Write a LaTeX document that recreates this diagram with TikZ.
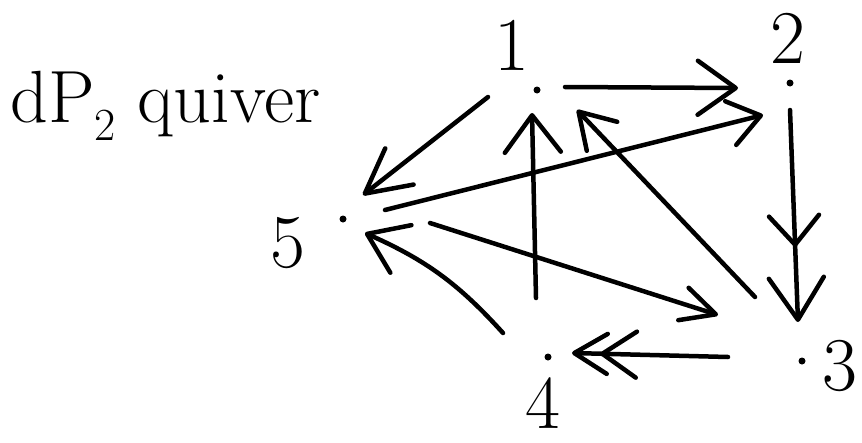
\documentclass[tikz,border=0pt]{standalone}
\usetikzlibrary{arrows.meta,decorations.markings}
\begin{document}
\begin{tikzpicture}[x=1pt,y=-1pt,
  vdot/.style={circle,fill=black,inner sep=0pt,minimum size=7pt},
  lbl/.style={inner sep=0pt,font=\fontsize{76}{76}\selectfont},
  edge/.style={line width=4.5pt,line cap=round,line join=round},
  hd/.style 2 args={arrows={-{Straight Barb[length=#1,width=#2,round]}}},
  midhd/.style n args={3}{decoration={markings,mark=at position #1 with {\arrow{Straight Barb[length=#2,width=#3,round]}}},postaction={decorate}}
]
\useasboundingbox (0,0) rectangle (862,442);

% title
\node[anchor=base west,inner sep=0pt,font=\fontsize{74}{74}\selectfont] (title) at (10,122) {dP\raisebox{-0.25em}{\fontsize{46}{46}\selectfont 2} quiver};

% vertices
\node[vdot] (n1) at (537,90) {};
\node[vdot] (n2) at (790,83) {};
\node[vdot] (n3) at (802,361) {};
\node[vdot] (n4) at (548,357) {};
\node[vdot] (n5) at (343,219) {};

% labels
\node[lbl] (l1) at (512,45) {1};
\node[lbl] (l2) at (788,38) {2};
\node[lbl] (l3) at (840,366) {3};
\node[lbl] (l4) at (543,403) {4};
\node[lbl] (l5) at (288,243) {5};

% arrows
% 1 -> 2
\draw[edge,hd={38pt}{54pt}] ([shift={(28,-3)}]n1.center) -- ([shift={(-52,5)}]n2.center);
% 1 -> 5
\draw[edge,hd={44pt}{46pt}] ([shift={(-49,7)}]n1.center) -- ([shift={(20,-24)}]n5.center);
% 2 -> 3 (double)
\draw[edge,hd={42pt}{55pt},midhd={0.646}{29pt}{50pt}] ([shift={(0,27)}]n2.center) -- ([shift={(-4,-39)}]n3.center);
% 5 -> 2
\draw[edge,hd={31pt}{45pt}] ([shift={(42,-9)}]n5.center) -- ([shift={(-27,32)}]n2.center);
% 3 -> 1
\draw[edge,hd={34pt}{42pt}] ([shift={(-47,-64)}]n3.center) -- ([shift={(40,20)}]n1.center);
% 4 -> 1
\draw[edge,hd={37pt}{56pt}] ([shift={(-12,-59)}]n4.center) -- ([shift={(-5,23)}]n1.center);
% 5 -> 3
\draw[edge,hd={34pt}{34pt}] ([shift={(87,4)}]n5.center) -- ([shift={(-84,-46)}]n3.center);
% 4 -> 5
\draw[edge,hd={37pt}{52pt}] ([shift={(-45,-24)}]n4.center) to[bend right=12] ([shift={(22,14)}]n5.center);
% 3 -> 4 (double)
\draw[edge,hd={33pt}{40pt},midhd={0.82}{34pt}{46pt}] ([shift={(-74,-4)}]n3.center) -- ([shift={(24,-4)}]n4.center);
\end{tikzpicture}
\end{document}
